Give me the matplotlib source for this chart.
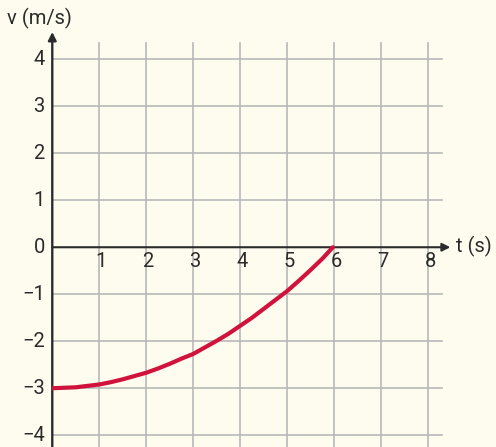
import matplotlib
matplotlib.use("Agg")
import matplotlib.pyplot as plt

# v(t) curve
t_vals = [0, 0.25, 0.5, 0.75, 1, 1.25, 1.5, 1.75, 2, 2.25, 2.5, 2.75, 3,
          3.25, 3.5, 3.75, 4, 4.25, 4.5, 4.75, 5, 5.25, 5.5, 5.75, 5.97]
v_vals = [-3.0, -2.99, -2.98, -2.95, -2.92, -2.87, -2.81, -2.74, -2.67, -2.58,
          -2.48, -2.37, -2.27, -2.13, -1.99, -1.84, -1.67, -1.50, -1.31, -1.12,
          -0.93, -0.71, -0.48, -0.24, 0.0]

x_ticks = [1, 2, 3, 4, 5, 6, 7, 8]
y_ticks = [-4, -3, -2, -1, 0, 1, 2, 3, 4]

bg = "#fefcee"
grid_col = "#b8b8b8"
axis_col = "#2b2b2b"
curve_col = "#d0123c"

plt.rcParams["font.family"] = ["Roboto", "DejaVu Sans"]

fig = plt.figure(figsize=(4.96, 4.47), dpi=100, facecolor=bg)
ax = fig.add_axes([0.1054, -0.001, 0.8054, 0.9315])
ax.set_facecolor(bg)
ax.set_xlim(0, 8.5)
ax.set_ylim(-4.26, 4.6)
ax.axis("off")

# grid
for x in x_ticks:
    ax.plot([x, x], [-4.4, 4.34], color=grid_col, lw=1.2, zorder=1)
for y in y_ticks:
    if y != 0:
        ax.plot([0, 8.3], [y, y], color=grid_col, lw=1.2, zorder=1)

# axes with arrows
ax.annotate("", xy=(8.47, 0), xytext=(0, 0),
            arrowprops=dict(arrowstyle="-|>", color=axis_col, lw=1.5,
                            mutation_scale=12, shrinkA=0, shrinkB=0), zorder=3)
ax.annotate("", xy=(0, 4.58), xytext=(0, -4.4),
            arrowprops=dict(arrowstyle="-|>", color=axis_col, lw=1.7,
                            mutation_scale=12, shrinkA=0, shrinkB=0), zorder=3)

# curve
ax.plot(t_vals, v_vals, color=curve_col, lw=3, solid_capstyle="round", zorder=4)

# tick labels
fs = 14.5
for x in x_ticks:
    ax.text(x + 0.04, -0.1, str(x), ha="center", va="top", fontsize=fs,
            color=axis_col, clip_on=False)
for y in y_ticks:
    lbl = str(y).replace("-", "\u2212")
    ax.text(-0.16, y, lbl, ha="right", va="center", fontsize=fs,
            color=axis_col, clip_on=False)

ax.text(-0.27, 4.87, "v (m/s)", ha="center", va="center", fontsize=fs,
        color=axis_col, clip_on=False)
ax.text(8.6, 0.02, "t (s)", ha="left", va="center", fontsize=fs,
        color=axis_col, clip_on=False)

fig.savefig("out.png", dpi=100, facecolor=bg)
